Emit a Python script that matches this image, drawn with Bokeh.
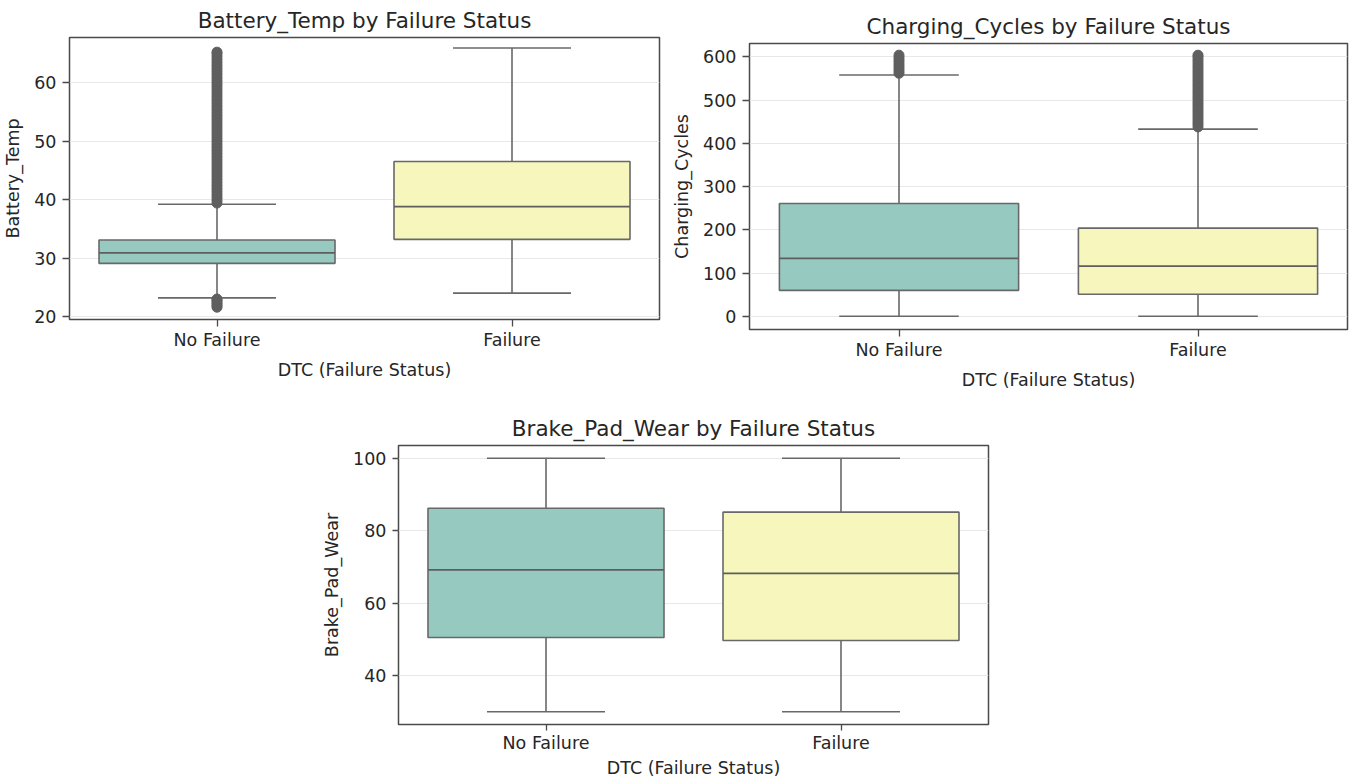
from bokeh.plotting import figure
from bokeh.layouts import column, row
from bokeh.models import Range1d, FixedTicker, Spacer
from bokeh.embed import file_html
from bokeh.resources import INLINE

categories = ["No Failure", "Failure"]
box_colors = ["#96cac1", "#f6f6bd"]
x_label = "DTC (Failure Status)"

# Battery_Temp
battery_q1 = [29.1, 33.2]
battery_median = [30.9, 38.8]
battery_q3 = [33.1, 46.5]
battery_whisker_low = [23.2, 24.0]
battery_whisker_high = [39.2, 65.9]
battery_outliers_no_failure = [21.6, 21.9, 22.2, 22.5, 22.8, 23.0,
    39.4, 39.9, 40.4, 40.9, 41.4, 41.9, 42.4, 42.9, 43.4, 43.9, 44.4, 44.9,
    45.4, 45.9, 46.4, 46.9, 47.4, 47.9, 48.4, 48.9, 49.4, 49.9, 50.4, 50.9,
    51.4, 51.9, 52.4, 52.9, 53.4, 53.9, 54.4, 54.9, 55.4, 55.9, 56.4, 56.9,
    57.4, 57.9, 58.4, 58.9, 59.4, 59.9, 60.4, 60.9, 61.4, 61.9, 62.4, 62.9,
    63.4, 63.9, 64.4, 64.9, 65.2]
battery_outliers_failure = []
battery_ticks = [20, 30, 40, 50, 60]

# Charging_Cycles
charging_q1 = [60, 51]
charging_median = [134, 116]
charging_q3 = [261, 204]
charging_whisker_low = [0, 0]
charging_whisker_high = [558, 433]
charging_outliers_no_failure = [562, 568, 574, 580, 586, 592, 598, 604]
charging_outliers_failure = [438, 444, 450, 456, 462, 468, 474, 480, 486, 492,
    498, 504, 510, 516, 522, 528, 534, 540, 546, 552, 558, 564, 570, 576,
    582, 588, 594, 600, 604]
charging_ticks = [0, 100, 200, 300, 400, 500, 600]

# Brake_Pad_Wear
brake_q1 = [50.5, 49.7]
brake_median = [69.2, 68.2]
brake_q3 = [86.2, 85.1]
brake_whisker_low = [30.0, 30.0]
brake_whisker_high = [100.0, 100.0]
brake_outliers_no_failure = []
brake_outliers_failure = []
brake_ticks = [40, 60, 80, 100]

FONT = "DejaVu Sans"
TEXT = "#262626"
LINE = "#686868"
FRAME = "#4a4a4a"


def box_panel(title, ylabel, q1, med, q3, wlo, whi, outliers, ticks,
              ylo, yhi, fw, fh, bl, bt, br, bb, xls=3, xals=7, tick_out=7):
    p = figure(frame_width=fw, frame_height=fh,
               min_border_left=bl, min_border_top=bt,
               min_border_right=br, min_border_bottom=bb,
               x_range=Range1d(-0.5, len(categories) - 0.5),
               y_range=Range1d(ylo, yhi),
               output_backend="svg", toolbar_location=None,
               title=title)
    xpos = list(range(len(categories)))
    half_box = 0.4
    half_cap = 0.2
    # whiskers
    p.segment(x0=xpos, y0=q3, x1=xpos, y1=whi, line_color=LINE, line_width=1.6)
    p.segment(x0=xpos, y0=q1, x1=xpos, y1=wlo, line_color=LINE, line_width=1.6)
    # caps
    p.segment(x0=[x - half_cap for x in xpos], y0=whi,
              x1=[x + half_cap for x in xpos], y1=whi, line_color=LINE, line_width=1.6)
    p.segment(x0=[x - half_cap for x in xpos], y0=wlo,
              x1=[x + half_cap for x in xpos], y1=wlo, line_color=LINE, line_width=1.6)
    # boxes
    p.vbar(x=xpos, bottom=q1, top=q3, width=2 * half_box,
           fill_color=box_colors, line_color=LINE, line_width=1.6)
    # medians
    p.segment(x0=[x - half_box for x in xpos], y0=med,
              x1=[x + half_box for x in xpos], y1=med, line_color="#5e5e5e", line_width=1.8)
    # outliers
    for x, vals in zip(xpos, outliers):
        if vals:
            p.scatter(x=[x] * len(vals), y=vals, size=10, marker="circle",
                      fill_color="#5f5f5f", line_color="#5f5f5f")

    p.title.text_font = FONT
    p.title.text_font_size = "21.5px"
    p.title.text_font_style = "normal"
    p.title.text_color = TEXT
    p.title.align = "center"
    p.title.standoff = 10

    p.outline_line_color = FRAME
    p.outline_line_width = 1.5
    p.background_fill_color = "white"
    p.border_fill_color = "white"

    p.xgrid.visible = False
    p.ygrid.grid_line_color = "#e8e8e8"
    p.ygrid.grid_line_width = 1

    p.xaxis.ticker = FixedTicker(ticks=xpos)
    p.xaxis.major_label_overrides = {i: c for i, c in enumerate(categories)}
    p.yaxis.ticker = FixedTicker(ticks=ticks)
    p.xaxis.axis_label = x_label
    p.yaxis.axis_label = ylabel
    for ax in (p.xaxis[0], p.yaxis[0]):
        ax.axis_line_color = None
        ax.major_tick_line_color = FRAME
        ax.major_tick_line_width = 1.3
        ax.major_tick_out = tick_out
        ax.major_tick_in = 0
        ax.minor_tick_line_color = None
        ax.major_label_text_font = FONT
        ax.major_label_text_font_size = "17.5px"
        ax.major_label_text_color = TEXT
        ax.axis_label_text_font = FONT
        ax.axis_label_text_font_size = "17.5px"
        ax.axis_label_text_font_style = "normal"
        ax.axis_label_text_color = TEXT
    p.xaxis.major_label_standoff = xls
    p.xaxis.axis_label_standoff = xals
    p.yaxis.major_label_standoff = 6
    p.yaxis.axis_label_standoff = 8
    return p


p1 = box_panel("Battery_Temp by Failure Status", "Battery_Temp",
               battery_q1, battery_median, battery_q3,
               battery_whisker_low, battery_whisker_high,
               [battery_outliers_no_failure, battery_outliers_failure],
               battery_ticks, 19.5, 67.7,
               fw=590, fh=282, bl=64, bt=30, br=10, bb=63)

p2 = box_panel("Charging_Cycles by Failure Status", "Charging_Cycles",
               charging_q1, charging_median, charging_q3,
               charging_whisker_low, charging_whisker_high,
               [charging_outliers_no_failure, charging_outliers_failure],
               charging_ticks, -30.5, 631,
               fw=598, fh=286, bl=76, bt=30, br=2, bb=53)

p3 = box_panel("Brake_Pad_Wear by Failure Status", "Brake_Pad_Wear",
               brake_q1, brake_median, brake_q3,
               brake_whisker_low, brake_whisker_high,
               [brake_outliers_no_failure, brake_outliers_failure],
               brake_ticks, 26.5, 103.5,
               fw=590, fh=279, bl=76, bt=30, br=10, bb=50, xls=2, xals=2, tick_out=6)

layout = column(row(p1, column(Spacer(width=1, height=6), p2)),
                Spacer(width=1, height=16),
                row(Spacer(width=319, height=1), p3))

open("out.html", "w").write(file_html(layout, INLINE))
